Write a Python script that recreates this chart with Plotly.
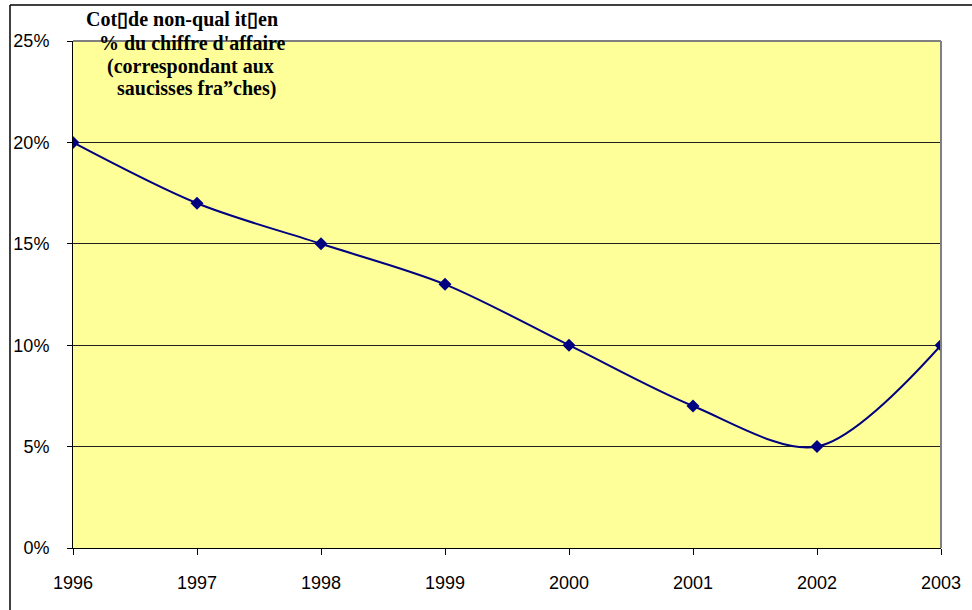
import plotly.graph_objects as go

years = ["1996", "1997", "1998", "1999", "2000", "2001", "2002", "2003"]
cost_pct = [0.20, 0.17, 0.15, 0.13, 0.10, 0.07, 0.05, 0.10]
y_ticks = [0, 0.05, 0.10, 0.15, 0.20, 0.25]
y_tick_text = ["0%", "5%", "10%", "15%", "20%", "25%"]
title_lines = [
    "Cot\u25afde non-qual it\u25afen",
    "% du chiffre d'affaire",
    "(correspondant aux",
    "saucisses fra\u201dches)",
]

W, H = 972, 610
L, R, T, B = 73, 31, 41, 62
pw, ph = W - L - R, H - T - B

def px_x(x):
    return (x - L) / pw

def px_y(y):
    return (H - B - y) / ph

fig = go.Figure()
fig.add_trace(go.Scatter(
    x=list(range(len(years))), y=cost_pct,
    mode="lines+markers",
    line=dict(color="#000080", width=2, shape="spline", smoothing=0.9),
    marker=dict(symbol="diamond", size=10, color="#000080"),
    hoverinfo="skip", showlegend=False,
))

tick_font = dict(family="Liberation Sans, Arial", size=18, color="black")
fig.update_xaxes(
    range=[0, len(years) - 1],
    tickvals=list(range(len(years))), ticktext=years,
    showgrid=False, zeroline=False,
    showline=True, linecolor="black", linewidth=1,
    ticks="outside", ticklen=6, tickcolor="black",
    ticklabelstandoff=12,
    tickfont=tick_font,
)
fig.update_yaxes(
    range=[0, 0.25],
    tickvals=y_ticks, ticktext=y_tick_text,
    showgrid=True, gridcolor="#202020", gridwidth=1,
    zeroline=False,
    showline=True, linecolor="black", linewidth=1,
    ticks="outside", ticklen=5, tickcolor="black",
    ticklabelstandoff=14,
    tickfont=tick_font,
)

shapes = [
    # grey frame on top and right of plot area
    dict(type="line", xref="paper", yref="paper", x0=0, x1=1, y0=1, y1=1,
         line=dict(color="#808080", width=2)),
    dict(type="line", xref="paper", yref="paper", x0=1, x1=1, y0=0, y1=1,
         line=dict(color="#808080", width=2)),
    # outer chart border
    dict(type="line", xref="paper", yref="paper",
         x0=px_x(10), x1=px_x(W + 5), y0=px_y(5), y1=px_y(5),
         line=dict(color="black", width=1.5)),
    dict(type="line", xref="paper", yref="paper",
         x0=px_x(10), x1=px_x(10), y0=px_y(5), y1=px_y(H + 5),
         line=dict(color="black", width=1.5)),
]

annotations = []
line_y = [19, 43, 66, 88]
line_x = [182, 192, 190, 196]
for txt, yy, xx in zip(title_lines, line_y, line_x):
    annotations.append(dict(
        text="<b>" + txt + "</b>", xref="paper", yref="paper",
        x=px_x(xx), y=px_y(yy), xanchor="center", yanchor="middle",
        showarrow=False,
        font=dict(family="Liberation Serif, Times New Roman", size=20, color="black"),
    ))

fig.update_layout(
    width=W, height=H,
    margin=dict(l=L, r=R, t=T, b=B),
    paper_bgcolor="white", plot_bgcolor="#FFFF99",
    shapes=shapes, annotations=annotations,
)

fig.write_html("out.html")
